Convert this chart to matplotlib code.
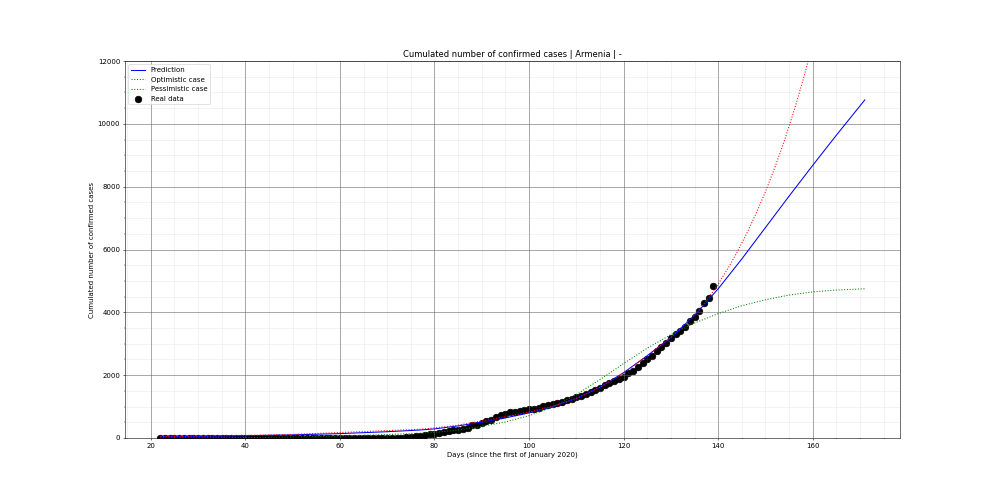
import matplotlib
matplotlib.use("Agg")
import matplotlib.pyplot as plt

# ---- Real data (cumulated confirmed cases, Armenia) ----
real_days = list(range(22, 140))
real_cases = ([0] * 39 + [1] * 11 +
              [4, 8, 18, 26, 52, 78, 84, 115,
               136, 160, 194, 235, 249, 265, 290, 329, 407, 424,
               482, 532, 571, 663, 736, 770, 822, 833, 853, 881,
               921, 937, 967, 1013, 1039, 1067, 1111, 1159, 1201, 1248,
               1291, 1339, 1401, 1473, 1523, 1596, 1677, 1746, 1808, 1867,
               1932, 2066, 2148, 2273, 2386, 2507, 2619, 2782, 2884, 3029,
               3175, 3313, 3392, 3538, 3718, 3860, 4044, 4283, 4472, 4823])

# ---- Model curves ----
pred_days = [22, 30, 40, 50, 60, 70, 77, 80, 85, 90, 95, 100, 105, 110,
             115, 120, 125, 130, 135, 140, 145, 150, 155, 160, 165, 171]
prediction = [40, 50, 72, 100, 140, 200, 255, 290, 385, 505, 640, 800, 1000,
              1260, 1620, 2080, 2620, 3200, 3900, 4750, 5700, 6700, 7700,
              8680, 9640, 10760]

opt_days = [22, 30, 40, 50, 60, 70, 77, 80, 85, 90, 95, 100, 105, 110,
            115, 120, 125, 130, 135, 140, 145, 150, 155, 160, 165, 171]
optimistic = [3, 6, 13, 30, 60, 110, 150, 175, 255, 370, 510, 710, 990,
              1380, 1860, 2370, 2860, 3290, 3660, 3960, 4210, 4400, 4550,
              4650, 4710, 4750]

pess_days = [22, 30, 40, 50, 60, 70, 77, 80, 85, 90, 95, 100, 105, 110,
             115, 120, 125, 130, 132, 134, 136, 138, 140, 142, 144, 146,
             148, 150, 152, 154, 156, 158, 160, 162, 165, 171]
pessimistic = [45, 58, 82, 115, 175, 235, 280, 320, 410, 540, 680, 830, 1010,
               1260, 1610, 2070, 2620, 3200, 3480, 3780, 4080, 4470, 4900,
               5385, 5916, 6498, 7140, 7842, 8615, 9463, 10397, 11422, 12547,
               13787, 15875, 21048]

title = "Cumulated number of confirmed cases | Armenia | -"
xlabel = "Days (since the first of January 2020)"
ylabel = "Cumulated number of confirmed cases"

fig = plt.figure(figsize=(20, 10), dpi=50)
ax = fig.add_axes([0.125, 0.124, 0.775, 0.754])

ax.plot(pred_days, prediction, color="blue", linestyle="-", label="Prediction")
ax.plot(opt_days, optimistic, color="green", linestyle=":", label="Optimistic case")
ax.plot(pess_days, pessimistic, color="red", linestyle=":", label="Pessimistic case")
ax.scatter(real_days, real_cases, color="black", s=90, label="Real data")

ax.set_xlim(14.55, 178.45)
ax.set_ylim(0, 12000)
ax.set_title(title)
ax.set_xlabel(xlabel)
ax.set_ylabel(ylabel)
ax.legend(loc="upper left")

ax.minorticks_on()
ax.grid(True, which="major", color="#666666", linestyle="-")
ax.grid(True, which="minor", color="#999999", linestyle="-", alpha=0.2)

fig.savefig("out.png", dpi=50)
